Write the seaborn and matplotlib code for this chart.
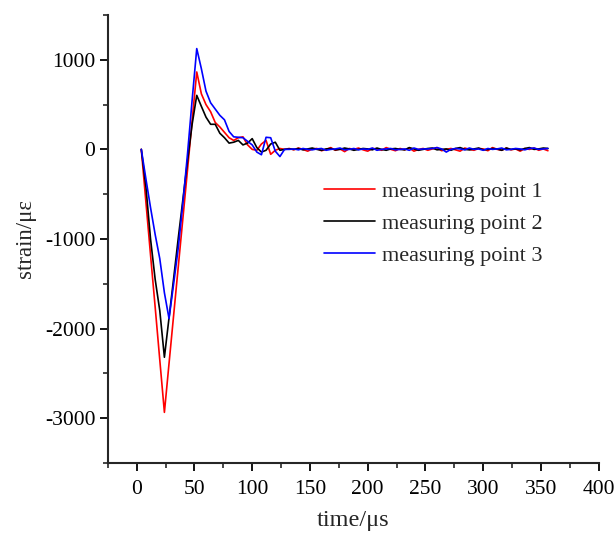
import numpy as np
import pandas as pd
import seaborn as sns
import matplotlib
matplotlib.use('Agg')
import matplotlib.pyplot as plt
from matplotlib.ticker import MultipleLocator

# время отсчётов, мкс (шаг 4 мкс)
time_us = np.arange(4, 360, 4)

# деформация, мкс (με)
point1 = [0, -590, -1180, -1760, -2350, -2935, -2390, -1850, -1310, -770, -230, 320, 864,
          620, 500, 420, 300, 250, 190, 130, 100, 130, 140, 50, 0, -10, 60, 100, -55, -10, 10, 0,
          10, -5, 15, 0, -20, 5, 10, -15, 0, 20,
          -10, 5, -25, 10, 0, 15, -5, -20, 10, 5,
          -10, 20, 0, -15, 10, -5, 15, -20, 0, 10,
          -10, 5, 20, -15, 0, 10, -5, -20, 15, 0,
          -10, 10, 5, -15, 20, 0, -10, 15, -5, 5,
          -20, 10, 0, 15, -10, 5, -15]
point2 = [0, -420, -1000, -1450, -1800, -2320, -1880, -1440, -990, -560, -130, 280, 603,
          480, 360, 280, 280, 180, 130, 70, 80, 100, 50, 70, 120, 20, -30, -10, 60, 80, -10, 0,
          5, 0, 10, -5, 5, 15, 0, -10, 5, 10,
          -5, 0, 15, 5, -10, 0, 10, 5, -5, 15,
          0, -10, 5, 10, 0, -5, 20, 5, -10, 0,
          10, 15, -5, 0, 5, -10, 10, 20, 0, -5,
          5, 15, -5, 0, 10, 5, -10, 15, 0, 5,
          -5, 10, 20, 0, 5, 15, 10]
point3 = [0, -330, -650, -950, -1220, -1600, -1888, -1500, -1100, -600, -50, 550, 1125,
          900, 650, 520, 450, 380, 330, 200, 140, 135, 130, 90, 50, -30, -60, 135, 130, -20, -80, 0,
          0, 5, -5, 10, 0, -5, 5, 10, -10, 0,
          5, 15, -5, 0, 10, -5, 5, 0, 15, -10,
          0, 5, 10, -5, 0, 5, -10, 15, 0, 5,
          5, 10, 20, 5, -30, 0, 10, 5, -5, 15,
          0, 5, -10, 10, 0, 5, 15, -5, 0, 10,
          5, -5, 10, 15, 0, 5, 10]

labels = ['measuring point 1', 'measuring point 2', 'measuring point 3']
colours = ['#ff0000', '#000000', '#0000ff']

df = pd.concat([
    pd.DataFrame({'time': time_us, 'strain': vals, 'point': lab})
    for vals, lab in zip([point1, point2, point3], labels)
])

sns.set_style('ticks')
plt.rcParams['font.family'] = ['Liberation Serif', 'DejaVu Serif']
plt.rcParams['axes.unicode_minus'] = False

fig = plt.figure(figsize=(6.16, 5.35), dpi=100)
ax = fig.add_axes([0.175, 0.1346, 0.797, 0.8374])

sns.lineplot(data=df, x='time', y='strain', hue='point', palette=colours,
             linewidth=1.2, ax=ax)

ax.set_xlim(-25, 400)
ax.set_ylim(-3500, 1500)
ax.xaxis.set_major_locator(MultipleLocator(50))
ax.xaxis.set_minor_locator(MultipleLocator(25))
ax.yaxis.set_major_locator(MultipleLocator(1000))
ax.yaxis.set_minor_locator(MultipleLocator(500))
ax.set_yticks([-3000, -2000, -1000, 0, 1000])

for s in ['top', 'right']:
    ax.spines[s].set_visible(False)
for s in ['left', 'bottom']:
    ax.spines[s].set_linewidth(1.5)
ax.tick_params(which='major', direction='out', length=6, width=1.3, labelsize=15.5, colors='black')
ax.tick_params(axis='y', which='major', pad=3)
ax.tick_params(axis='x', which='major', pad=6)
ax.tick_params(which='minor', direction='out', length=3.5, width=1.2)

ax.set_xlabel('time/μs', fontsize=17.5, labelpad=8)
ax.set_ylabel('strain/με', fontsize=16.5, labelpad=6)

ax.legend(loc='upper left', bbox_to_anchor=(0.44, 0.629), frameon=False,
          fontsize=16, handlelength=2.3, handletextpad=0.32, labelspacing=0.52,
          borderaxespad=0, borderpad=0)

fig.savefig('out.png', dpi=100)
